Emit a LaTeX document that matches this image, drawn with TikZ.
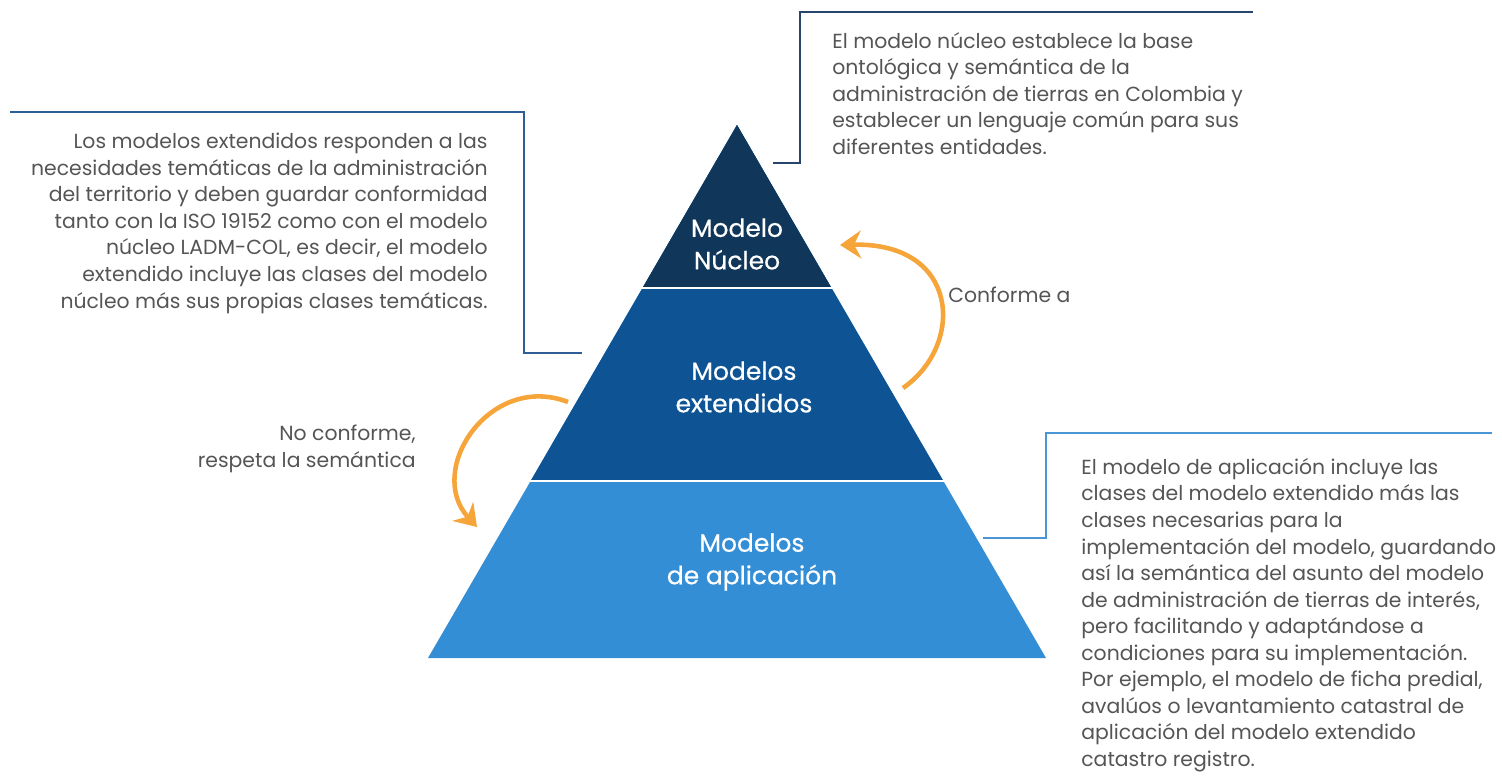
\documentclass[tikz,border=0pt]{standalone}
\usepackage{fontspec}
\setmainfont{Poppins}
\newfontfamily\layerfont{Poppins}[FakeBold=0.5]
\usepackage{xcolor}
\usetikzlibrary{arrows.meta, positioning}
\definecolor{nucleoBlue}{HTML}{103759}
\definecolor{extBlue}{HTML}{0E5494}
\definecolor{aplBlue}{HTML}{348ED6}
\definecolor{arrowOrange}{HTML}{F5A53A}
\definecolor{txtGray}{HTML}{555555}
\definecolor{lineNucleo}{HTML}{25456B}
\definecolor{lineExt}{HTML}{2F5E97}
\definecolor{lineApl}{HTML}{4A95D6}

\begin{document}
\begin{tikzpicture}[x=0.02cm, y=-0.02cm,
    desc/.style={font=\fontsize{11.6}{15.1}\selectfont, text=txtGray, inner sep=0pt},
    layer/.style={font=\layerfont\fontsize{14.2}{18.5}\selectfont, text=white, align=center, inner sep=0pt},
    bracket/.style={line width=1.1pt},
    curvearrow/.style={arrowOrange, line width=2.6pt, -{Stealth[length=12pt,width=16pt,inset=4pt]}}
]
  \useasboundingbox (0,0) rectangle (1502,779);

  % pyramid
  \coordinate (apex) at (737,125);
  \fill[aplBlue]    (apex) -- (428,658)   -- (1046,658)  -- cycle;
  \fill[extBlue]    (apex) -- (530.6,481) -- (943.4,481) -- cycle;
  \fill[nucleoBlue] (apex) -- (642.5,288) -- (831.5,288) -- cycle;
  \draw[white, line width=1.6pt] (620,288) -- (855,288);
  \draw[white, line width=1.6pt] (510,481) -- (965,481);

  \node (nucleo)     at (737,244) [layer] {Modelo\\Núcleo};
  \node (extendidos) at (744,387) [layer] {Modelos\\extendidos};
  \node (aplicacion) at (752,562) [layer] {Modelos\\de aplicación};

  % descriptions
  \node (txtNucleo) at (832,32) [desc, anchor=north west, align=left]
    {El modelo núcleo establece la base\\
     ontológica y semántica de la\\
     administración de tierras en Colombia y\\
     establecer un lenguaje común para sus\\
     diferentes entidades.};
  \node (txtExtendidos) at (488,133) [desc, anchor=north east, align=right]
    {Los modelos extendidos responden a las\\
     necesidades temáticas de la administración\\
     del territorio y deben guardar conformidad\\
     tanto con la ISO 19152 como con el modelo\\
     núcleo LADM-COL, es decir, el modelo\\
     extendido incluye las clases del modelo\\
     núcleo más sus propias clases temáticas.};
  \node (txtAplicacion) at (1081,458) [desc, anchor=north west, align=left]
    {El modelo de aplicación incluye las\\
     clases del modelo extendido más las\\
     clases necesarias para la\\
     implementación del modelo, guardando\\
     así la semántica del asunto del modelo\\
     de administración de tierras de interés,\\
     pero facilitando y adaptándose a\\
     condiciones para su implementación.\\
     Por ejemplo, el modelo de ficha predial,\\
     avalúos o levantamiento catastral de\\
     aplicación del modelo extendido\\
     catastro registro.};

  \node (lblConforme)   at (948,295) [desc, anchor=west] {Conforme a};
  \node (lblNoConforme) at (416,449) [desc, anchor=east, align=right]
    {No conforme,\\respeta la semántica};

  % brackets
  \coordinate (nucStart) at (1253,12);
  \coordinate (nucEnd)   at (773,163);
  \coordinate (extStart) at (10,112);
  \coordinate (extEnd)   at (582,353);
  \coordinate (aplStart) at (1492,433);
  \coordinate (aplEnd)   at (983,538);
  \draw[bracket, lineNucleo] (nucStart) -- (800,12)  -- (800,163)  -- (nucEnd);
  \draw[bracket, lineExt]    (extStart) -- (524,112) -- (524,353)  -- (extEnd);
  \draw[bracket, lineApl]    (aplStart) -- (1046,433) -- (1046,538) -- (aplEnd);

  % arrows
  \coordinate (upFrom)   at (903,388);
  \coordinate (upTo)     at (840,245);
  \coordinate (downFrom) at (568,402);
  \coordinate (downTo)   at (477,527);
  \draw[curvearrow] (upFrom) .. controls (965,345) and (960,242) .. (upTo);
  \draw[curvearrow] (downFrom) .. controls (490,372) and (425,470) .. (downTo);
\end{tikzpicture}
\end{document}
